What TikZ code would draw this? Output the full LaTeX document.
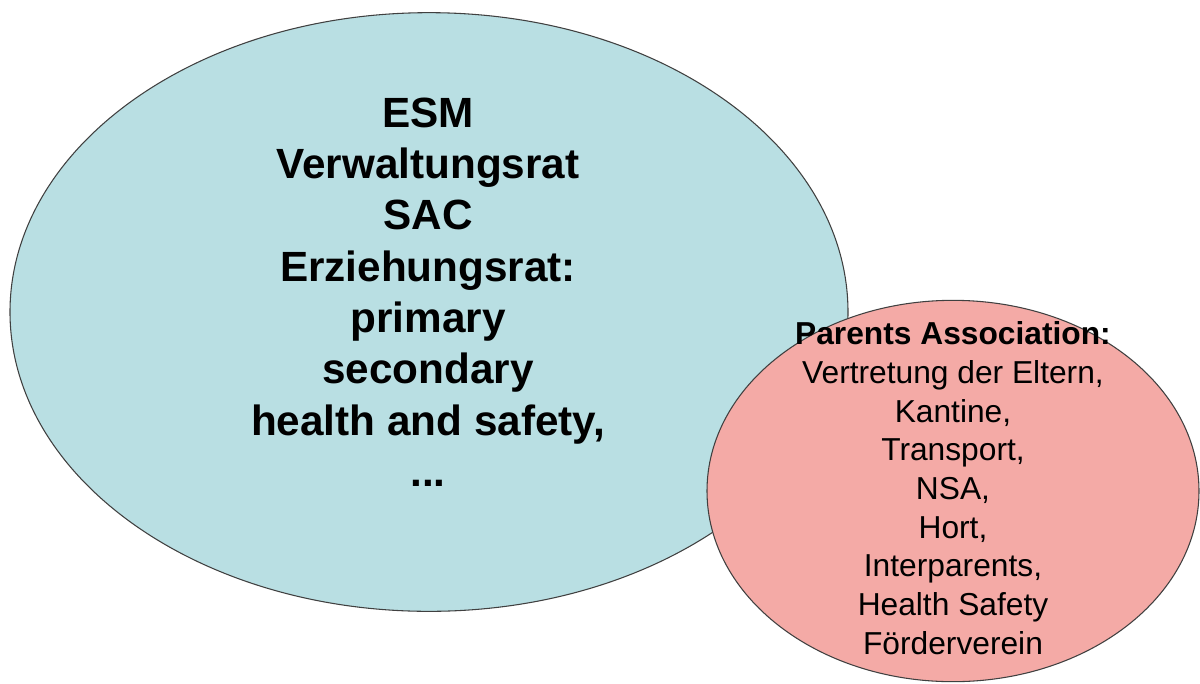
\documentclass[tikz,border=0pt]{standalone}
\usepackage{fontspec}
\setmainfont{Liberation Sans}
\usetikzlibrary{shapes.geometric}
\definecolor{bluefill}{HTML}{B9DFE3}
\definecolor{pinkfill}{HTML}{F4AAA6}
\definecolor{edgegray}{HTML}{404040}
\tikzset{
  bubble/.style={ellipse, draw=edgegray, line width=0.8pt, inner sep=0pt},
  bigtext/.style={align=center, font=\fontsize{31.7}{38.5}\selectfont\bfseries, inner sep=0pt},
  smalltext/.style={align=center, font=\fontsize{23.8}{29}\selectfont, inner sep=0pt}
}
\begin{document}
\begin{tikzpicture}[x=0.75pt, y=-0.75pt]
\useasboundingbox (0,0) rectangle (1200,683);
\node[bubble, fill=bluefill, minimum width=628.5pt, minimum height=449pt] (esm) at (429,312) {};
\node[bubble, fill=pinkfill, minimum width=369pt, minimum height=286pt] (pa) at (953,491) {};
\node[bigtext] (esmtext) at (428,292) {ESM\\Verwaltungsrat\\SAC\\Erziehungsrat:\\primary\\secondary\\health and safety,\\...};
\node[smalltext] (patext) at (953,488) {\textbf{Parents Association:}\\Vertretung der Eltern,\\Kantine,\\Transport,\\NSA,\\Hort,\\Interparents,\\Health Safety\\Förderverein};
\end{tikzpicture}
\end{document}
